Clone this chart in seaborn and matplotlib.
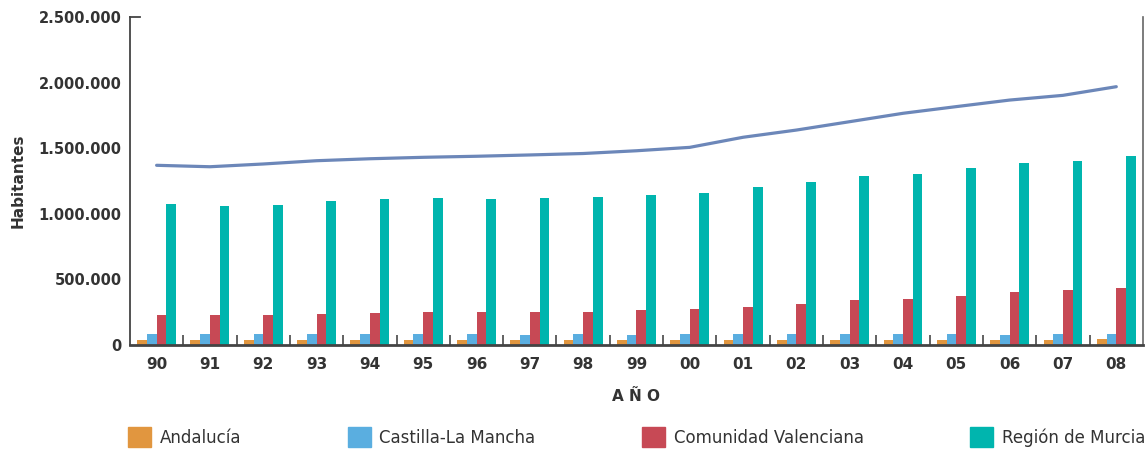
import numpy as np
import pandas as pd
import matplotlib
matplotlib.use("Agg")
import matplotlib.pyplot as plt
import seaborn as sns
from matplotlib.ticker import FuncFormatter, FixedLocator

# datos
years = ['90', '91', '92', '93', '94', '95', '96', '97', '98', '99',
         '00', '01', '02', '03', '04', '05', '06', '07', '08']
regions = ['Andalucía', 'Castilla-La Mancha', 'Comunidad Valenciana', 'Región de Murcia']

andalucia = [34000, 34000, 34000, 34000, 34000, 34000, 34000, 34000, 34000, 34000,
             34000, 34000, 34000, 34000, 34000, 34000, 34000, 34000, 42000]
castilla = [80000, 80000, 80000, 80000, 80000, 80000, 80000, 72000, 80000, 72000,
            80000, 80000, 80000, 80000, 80000, 80000, 72000, 80000, 80000]
valenciana = [225000, 225000, 225000, 233000, 240000, 248000, 248000, 248000, 248000, 263000,
              271000, 286000, 309000, 340000, 347000, 370000, 401000, 416000, 431000]
murcia = [1073000, 1057000, 1065000, 1095000, 1111000, 1118000, 1111000, 1118000, 1126000, 1141000,
          1157000, 1202000, 1241000, 1286000, 1302000, 1347000, 1386000, 1401000, 1439000]
total_line = [1368000, 1357000, 1378000, 1403000, 1418000, 1429000, 1437000, 1447000, 1458000, 1479000,
              1505000, 1582000, 1637000, 1701000, 1765000, 1816000, 1866000, 1902000, 1968000]

colors = ['#E1963F', '#5AAEE0', '#C74955', '#00B5AE']
line_color = '#6C87B9'
text_color = '#333333'

df = pd.DataFrame({'year': years * 4,
                   'region': np.repeat(regions, len(years)),
                   'value': andalucia + castilla + valenciana + murcia})

sns.set_style('white')
plt.rcParams['font.family'] = ['DejaVu Sans']

fig = plt.figure(figsize=(11.48, 4.51), dpi=100)
ax = fig.add_axes([0.1132, 0.2361, 0.8824, 0.7262])

sns.barplot(data=df, x='year', y='value', hue='region', order=years, hue_order=regions,
            palette=colors, width=0.73, saturation=1, linewidth=0, edgecolor='none',
            legend=False, ax=ax)
sns.lineplot(x=np.arange(len(years)), y=total_line, color=line_color, linewidth=2.3, ax=ax)

ax.set_xlim(-0.5, len(years) - 0.5)
ax.set_ylim(0, 2500000)
ax.yaxis.set_major_locator(FixedLocator([0, 500000, 1000000, 1500000, 2000000, 2500000]))
ax.yaxis.set_major_formatter(FuncFormatter(lambda v, p: f'{int(v):,}'.replace(',', '.')))

ax.set_xticks(range(len(years)))
ax.set_xticklabels(years)
ax.set_xticks(np.arange(0.5, len(years) - 1), minor=True)
ax.tick_params(axis='x', which='major', bottom=True, length=0, pad=9, labelsize=11,
               labelcolor=text_color)
ax.tick_params(axis='x', which='minor', bottom=True, direction='in', length=7.5, width=1.3,
               color='#555555')
ax.tick_params(axis='y', length=0, pad=6, labelsize=10.5, labelcolor=text_color)
for lab in ax.get_xticklabels() + ax.get_yticklabels():
    lab.set_fontweight('bold')

ax.set_xlabel('A Ñ O', fontsize=11, fontweight='bold', color=text_color, labelpad=12)
ax.set_ylabel('Habitantes', fontsize=11, fontweight='bold', color=text_color, labelpad=9)

for side in ['left', 'bottom', 'right', 'top']:
    ax.spines[side].set_color('#444444')
ax.spines['left'].set_linewidth(1.3)
ax.spines['bottom'].set_linewidth(2)
ax.spines['right'].set_linewidth(1.2)
ax.spines['right'].set_color('#666666')
ax.spines['top'].set_linewidth(1.3)
ax.spines['top'].set_bounds(-0.5, -0.31)

handles = [plt.Rectangle((0, 0), 1, 1, color=c) for c in colors]
fig.legend(handles, regions, loc='center', ncol=4, mode='expand',
           bbox_to_anchor=(0.1115, 0.0, 0.886, 0.062), frameon=False,
           borderaxespad=0, borderpad=0, handlelength=1.4, handleheight=1.4,
           handletextpad=0.5, prop={'size': 12}, labelcolor=text_color)

fig.savefig('out.png', dpi=100)
